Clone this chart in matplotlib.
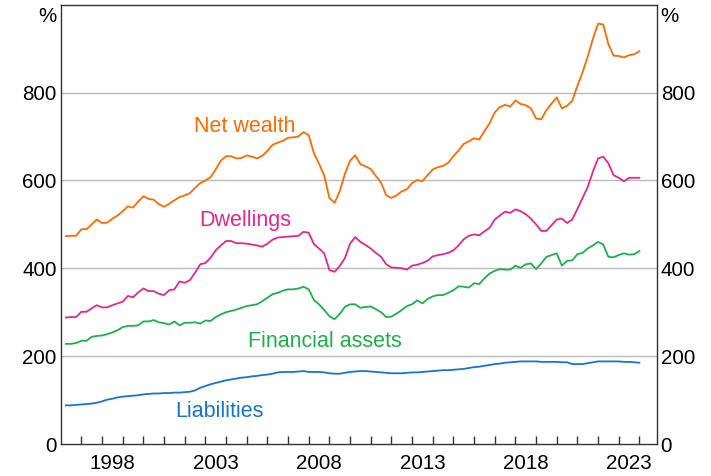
# household wealth and liabilities, share of disposable income
import numpy as np
import matplotlib.pyplot as plt

plt.rcParams['font.family'] = ['Liberation Sans', 'DejaVu Sans']

# quarterly, 1996 Q1 .. 2023 Q4 (plotted at quarter end)
quarters = np.arange(1996.25, 2024.01, 0.25)

net_wealth = [
    473, 474, 474, 489,  489, 500, 511, 503,  504, 513, 520, 530,
    541, 538, 552, 564,  558, 556, 546, 540,  547, 555, 562, 566,
    571, 583, 594, 600,  607, 625, 645, 655,  655, 650, 651, 657,
    654, 650, 656, 667,  681, 686, 690, 697,  698, 700, 710, 703,
    662, 638, 611, 560,  549, 575, 615, 645,  657, 637, 632, 626,
    610, 595, 566, 560,  566, 575, 580, 594,  601, 598, 612, 625,
    630, 633, 640, 655,  668, 683, 689, 696,  693, 712, 730, 755,
    767, 772, 768, 782,  774, 771, 764, 741,  739, 760, 775, 789,
    764, 770, 781, 815,  846, 882, 922, 957,  955, 910, 884, 883,
    880, 885, 887, 894,
]
dwellings = [
    288, 289, 289, 301,  301, 309, 316, 311,  311, 316, 320, 324,
    337, 334, 345, 354,  348, 348, 342, 339,  350, 352, 370, 367,
    373, 390, 409, 412,  424, 441, 452, 462,  462, 457, 457, 456,
    454, 452, 449, 456,  465, 470, 471, 472,  473, 474, 483, 481,
    455, 445, 434, 396,  392, 405, 423, 456,  471, 460, 453, 445,
    435, 426, 409, 402,  401, 400, 397, 406,  408, 412, 417, 427,
    430, 432, 435, 441,  452, 466, 474, 477,  475, 484, 492, 511,
    520, 529, 526, 534,  530, 523, 513, 500,  485, 485, 498, 511,
    513, 503, 511, 535,  560, 585, 620, 650,  654, 639, 612, 606,
    598, 606, 606, 606,
]
financial_assets = [
    228, 228, 230, 235,  235, 244, 246, 247,  250, 254, 259, 266,
    269, 269, 270, 279,  279, 282, 277, 275,  272, 279, 270, 276,
    276, 277, 274, 281,  280, 289, 295, 300,  303, 306, 310, 314,
    316, 318, 325, 333,  341, 344, 349, 352,  352, 354, 358, 352,
    328, 318, 305, 291,  284, 296, 312, 318,  318, 310, 312, 313,
    307, 300, 289, 290,  297, 305, 314, 318,  327, 320, 330, 336,
    339, 339, 344, 350,  359, 358, 356, 366,  364, 377, 388, 394,
    398, 397, 397, 406,  401, 409, 411, 398,  411, 426, 430, 434,
    406, 417, 418, 432,  435, 445, 452, 460,  454, 426, 425, 430,
    434, 431, 432, 439,
]
liabilities = [
    88, 88, 89, 90,  91, 92, 94, 97,  101, 103, 106, 108,
    109, 110, 111, 113,  114, 115, 115, 116,  116, 117, 117, 118,
    119, 122, 128, 132,  136, 139, 142, 145,  147, 149, 151, 152,
    154, 155, 157, 158,  160, 163, 164, 164,  164, 165, 166, 164,
    164, 164, 163, 161,  160, 160, 162, 164,  165, 166, 166, 165,
    164, 163, 162, 161,  161, 161, 162, 163,  163, 164, 165, 166,
    167, 168, 168, 169,  170, 171, 173, 175,  176, 178, 180, 182,
    183, 185, 186, 187,  188, 188, 188, 188,  187, 187, 187, 187,
    186, 186, 182, 182,  182, 184, 186, 188,  188, 188, 188, 188,
    187, 187, 186, 185,
]

series = [
    ("Net wealth", net_wealth, "#FF6A00", (2004.92, 723)),
    ("Dwellings", dwellings, "#E5278D", (2004.92, 509)),
    ("Financial assets", financial_assets, "#1DB04B", (2008.8, 234)),
    ("Liabilities", liabilities, "#1674D1", (2003.66, 75)),
]

year_labels = [1998, 2003, 2008, 2013, 2018, 2023]
# the unit sign sits where a 1000 label would, a little below the top edge
y_ticks = [0, 200, 400, 600, 800, 977]
y_labels = ["0", "200", "400", "600", "800", "%"]

fig = plt.figure(figsize=(7.11, 4.76), dpi=100)
ax = fig.add_axes([0.0854, 0.0672, 0.8380, 0.9230])

for name, vals, col, (tx, ty) in series:
    ax.plot(quarters, vals, color=col, linewidth=1.3)
    ax.text(tx, ty, name, color=col, fontsize=15.5, ha="center", va="center")

ax.set_xlim(1996, 2024.83)
ax.set_ylim(0, 1000)

for g in [200, 400, 600, 800]:
    ax.axhline(g, color="#BBBBBB", linewidth=1, zorder=0)

# year boundary ticks, labels centred mid-year
ax.set_xticks(np.arange(1997, 2025))
ax.set_xticklabels([])
ax.set_xticks([y + 0.5 for y in year_labels], minor=True)
ax.set_xticklabels([str(y) for y in year_labels], minor=True, fontsize=14.8)
ax.tick_params(axis="x", which="major", direction="in", length=6, width=1, color="#333333")
ax.tick_params(axis="x", which="minor", length=0, pad=7)

ax.set_yticks(y_ticks)
ax.set_yticklabels(y_labels, fontsize=14.8)
ax.tick_params(axis="y", length=0, pad=3, labelright=True, right=False)

for sp in ax.spines.values():
    sp.set_color("#333333")
    sp.set_linewidth(1)

fig.savefig("out.png", dpi=100)
